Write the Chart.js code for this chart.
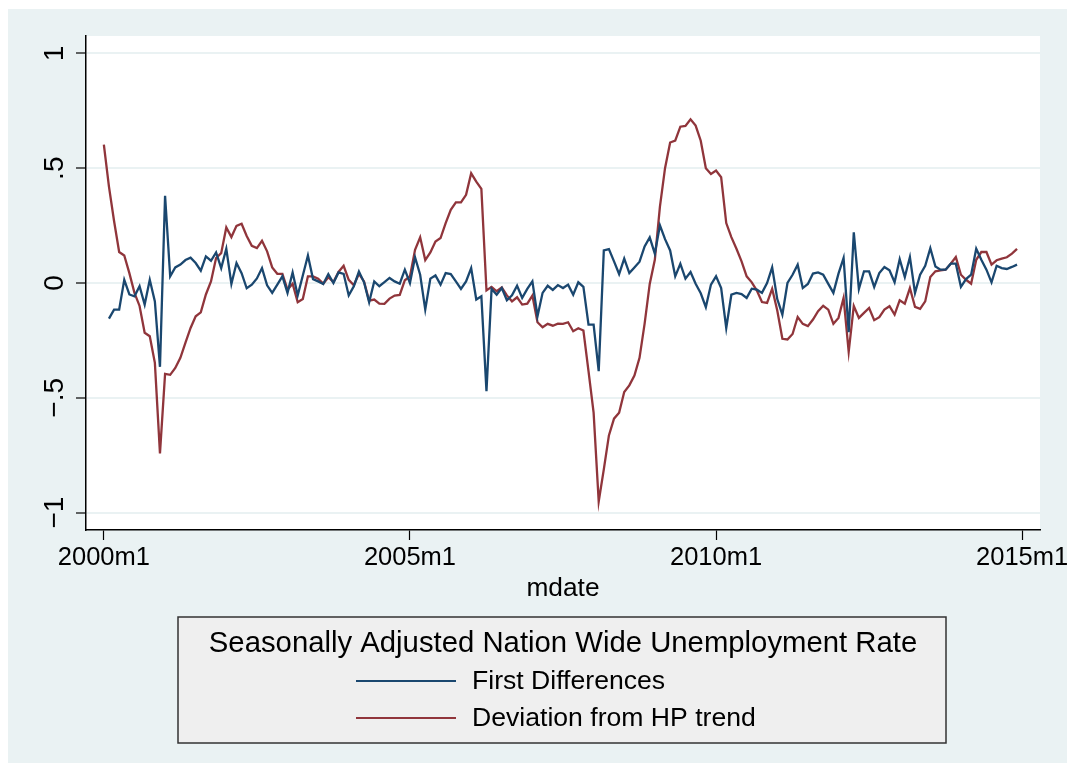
<!DOCTYPE html>
<html>
<head>
<meta charset="utf-8">
<script src="https://cdn.jsdelivr.net/npm/chart.js@4.4.1/dist/chart.umd.min.js"></script>
<style>
  html, body { margin: 0; padding: 0; background: #ffffff; }
  #wrap { width: 1075px; height: 771px; position: relative; }
</style>
</head>
<body>
<div id="wrap"><canvas id="chart" width="1075" height="771"></canvas></div>
<script>

// months counted from 2000m1 (0) to 2014m12 (179)
const months = Array.from({ length: 180 }, (_, i) => i)

const firstDiff = [
  null, -0.155, -0.116, -0.116, 0.014, -0.05, -0.058, -0.014, -0.094, 0.014, -0.08, -0.365,
  0.38, 0.029, 0.068, 0.08, 0.10, 0.11, 0.087, 0.054, 0.116, 0.097, 0.133, 0.065,
  0.149, -0.004, 0.087, 0.043, -0.023, -0.007, 0.02, 0.065, -0.01, -0.043, -0.007, 0.029,
  -0.043, 0.046, -0.054, 0.033, 0.12, 0.017, 0.007, -0.004, 0.039, 0, 0.046, 0.04,
  -0.054, -0.014, 0.05, 0.003, -0.084, 0.007, -0.014, 0.004, 0.022, 0.007, -0.003, 0.058,
  0, 0.112, 0.036, -0.116, 0.019, 0.033, -0.007, 0.043, 0.039, 0.007, -0.026, 0.007,
  0.065, -0.072, -0.058, -0.471, -0.026, -0.051, -0.022, -0.075, -0.054, -0.012, -0.065, -0.026,
  0.007, -0.145, -0.043, -0.012, -0.03, -0.009, -0.022, -0.007, -0.051, 0.003, -0.017, -0.181,
  -0.181, -0.384, 0.142, 0.148, 0.094, 0.039, 0.106, 0.043, 0.068, 0.093, 0.159, 0.199,
  0.128, 0.251, 0.191, 0.142, 0.029, 0.084, 0.019, 0.048, -0.003, -0.045, -0.105, -0.007,
  0.029, -0.022, -0.196, -0.051, -0.043, -0.048, -0.065, -0.025, -0.029, -0.043, 0, 0.068,
  -0.07, -0.138, 0, 0.036, 0.08, -0.022, -0.004, 0.041, 0.046, 0.036, -0.004, -0.043,
  0.041, 0.109, -0.214, 0.221, -0.026, 0.051, 0.051, -0.017, 0.043, 0.07, 0.055, 0.003,
  0.104, 0.026, 0.113, -0.043, 0.036, 0.075, 0.152, 0.072, 0.058, 0.058, 0.084, 0.084,
  -0.017, 0.017, 0.036, 0.149, 0.101, 0.058, 0.003, 0.075, 0.065, 0.061, 0.07, 0.08
]

const hpDeviation = [
  0.603, 0.42, 0.27, 0.135, 0.12, 0.043, -0.043, -0.10, -0.217, -0.232, -0.348, -0.742,
  -0.396, -0.40, -0.37, -0.326, -0.26, -0.196, -0.145, -0.128, -0.05, 0.007, 0.109, 0.13,
  0.242, 0.20, 0.249, 0.258, 0.205, 0.162, 0.152, 0.184, 0.138, 0.068, 0.04, 0.04,
  -0.029, -0.003, -0.084, -0.07, 0.029, 0.029, 0.019, -0.003, 0.025, 0.004, 0.048, 0.075,
  0.014, -0.01, 0.04, 0.007, -0.077, -0.072, -0.09, -0.091, -0.068, -0.055, -0.052, 0.012,
  0.029, 0.145, 0.199, 0.10, 0.133, 0.181, 0.196, 0.261, 0.319, 0.351, 0.351, 0.384,
  0.478, 0.442, 0.41, -0.032, -0.017, -0.036, -0.019, -0.054, -0.08, -0.062, -0.094, -0.09,
  -0.055, -0.171, -0.193, -0.178, -0.186, -0.177, -0.178, -0.171, -0.21, -0.197, -0.207, -0.384,
  -0.565, -0.952, -0.812, -0.664, -0.591, -0.565, -0.475, -0.446, -0.403, -0.326, -0.177, -0.004,
  0.101, 0.333, 0.5, 0.612, 0.62, 0.681, 0.684, 0.713, 0.686, 0.62, 0.5, 0.475,
  0.49, 0.461, 0.261, 0.2, 0.149, 0.094, 0.029, 0.003, -0.033, -0.083, -0.087, -0.025,
  -0.12, -0.243, -0.246, -0.222, -0.148, -0.178, -0.188, -0.159, -0.123, -0.099, -0.116, -0.178,
  -0.152, -0.065, -0.3, -0.1, -0.152, -0.13, -0.109, -0.162, -0.149, -0.116, -0.101, -0.138,
  -0.075, -0.09, -0.022, -0.104, -0.113, -0.08, 0.026, 0.051, 0.055, 0.058, 0.084, 0.113,
  0.036, 0.014, -0.003, 0.101, 0.135, 0.135, 0.08, 0.099, 0.106, 0.112, 0.128, 0.149
]

const xTickMonths = [0, 60, 120, 180]
const xTickLabels = ['2000m1', '2005m1', '2010m1', '2015m1']
const yTicks = [-1, -0.5, 0, 0.5, 1]
const yTickLabels = ['\u22121', '\u2212.5', '0', '.5', '1']

const seriesNames = ['First Differences', 'Deviation from HP trend']
const legendTitle = 'Seasonally Adjusted Nation Wide Unemployment Rate'
const xTitle = 'mdate'

const FONT = "'Liberation Sans', Arial, Helvetica, sans-serif"
const bluish = '#eaf2f3'

// stata-like backdrop: light frame + white plot region
const backdrop = {
  id: 'backdrop',
  beforeDraw(chart) {
    const { ctx, chartArea: a } = chart
    ctx.save()
    ctx.fillStyle = '#ffffff'
    ctx.fillRect(0, 0, chart.width, chart.height)
    ctx.fillStyle = bluish
    ctx.fillRect(8, 9, chart.width - 16, chart.height - 17)
    ctx.fillStyle = '#ffffff'
    ctx.fillRect(a.left, a.top, a.right - a.left, a.bottom - a.top)
    ctx.restore()
  }
}

// rotated y labels, x title and the boxed legend
const extras = {
  id: 'extras',
  afterDraw(chart) {
    const { ctx, chartArea: a } = chart
    const y = chart.scales.y
    ctx.save()
    ctx.fillStyle = '#000'

    ctx.font = `28px ${FONT}`
    ctx.textAlign = 'center'
    ctx.textBaseline = 'alphabetic'
    yTicks.forEach((v, i) => {
      ctx.save()
      ctx.translate(63, y.getPixelForValue(v))
      ctx.rotate(-Math.PI / 2)
      ctx.fillText(yTickLabels[i], 0, 0)
      ctx.restore()
    })

    ctx.font = `26.3px ${FONT}`
    ctx.fillText(xTitle, (a.left + a.right) / 2, 596)

    // legend box
    const bx = 178, by = 617, bw = 768, bh = 126
    ctx.fillStyle = '#efefef'
    ctx.fillRect(bx, by, bw, bh)
    ctx.strokeStyle = '#333'
    ctx.lineWidth = 1.5
    ctx.strokeRect(bx, by, bw, bh)

    ctx.fillStyle = '#000'
    ctx.font = `29.3px ${FONT}`
    ctx.fillText(legendTitle, 563, 652)

    ctx.textAlign = 'left'
    ctx.textBaseline = 'middle'
    ctx.font = `26.6px ${FONT}`
    const rows = [681, 718]
    chart.data.datasets.forEach((ds, i) => {
      ctx.strokeStyle = ds.borderColor
      ctx.lineWidth = 2.2
      ctx.beginPath()
      ctx.moveTo(356, rows[i])
      ctx.lineTo(456, rows[i])
      ctx.stroke()
      ctx.fillText(ds.label, 472, rows[i] + 1)
    })
    ctx.restore()
  }
}

const config = {
  type: 'line',
  data: {
    datasets: [
      {
        label: seriesNames[0],
        data: months.map(m => ({ x: m, y: firstDiff[m] })),
        borderColor: '#1a476f',
        borderWidth: 2.3,
        pointRadius: 0,
        tension: 0,
        spanGaps: false
      },
      {
        label: seriesNames[1],
        data: months.map(m => ({ x: m, y: hpDeviation[m] })),
        borderColor: '#90353b',
        borderWidth: 2.3,
        pointRadius: 0,
        tension: 0
      }
    ]
  },
  options: {
    responsive: false,
    animation: false,
    devicePixelRatio: 1,
    layout: { padding: { left: 0, top: 36, right: 35, bottom: 0 } },
    plugins: {
      legend: { display: false },
      tooltip: { enabled: false }
    },
    scales: {
      x: {
        type: 'linear',
        min: -3.5,
        max: 183.5,
        afterBuildTicks: s => { s.ticks = xTickMonths.map(v => ({ value: v })) },
        afterFit: s => { s.height = 241 },
        ticks: {
          callback: v => xTickLabels[xTickMonths.indexOf(v)],
          font: { family: FONT, size: 25.5 },
          color: '#000',
          padding: 3,
          maxRotation: 0,
          autoSkip: false
        },
        grid: {
          drawOnChartArea: false,
          drawTicks: true,
          tickLength: 10,
          tickColor: '#000',
          tickWidth: 1.2
        },
        border: { display: true, color: '#000', width: 1.5 }
      },
      y: {
        type: 'linear',
        min: -1.076,
        max: 1.076,
        afterBuildTicks: s => { s.ticks = yTicks.map(v => ({ value: v })) },
        afterFit: s => { s.width = 86 },
        ticks: { display: false },
        grid: {
          color: bluish,
          lineWidth: 2,
          drawTicks: true,
          tickLength: 10,
          tickColor: '#000',
          tickWidth: 1.2
        },
        border: { display: true, color: '#000', width: 1.5 }
      }
    }
  },
  plugins: [backdrop, extras]
}

const chart = new Chart(document.getElementById('chart'), config)
</script>
</body>
</html>
